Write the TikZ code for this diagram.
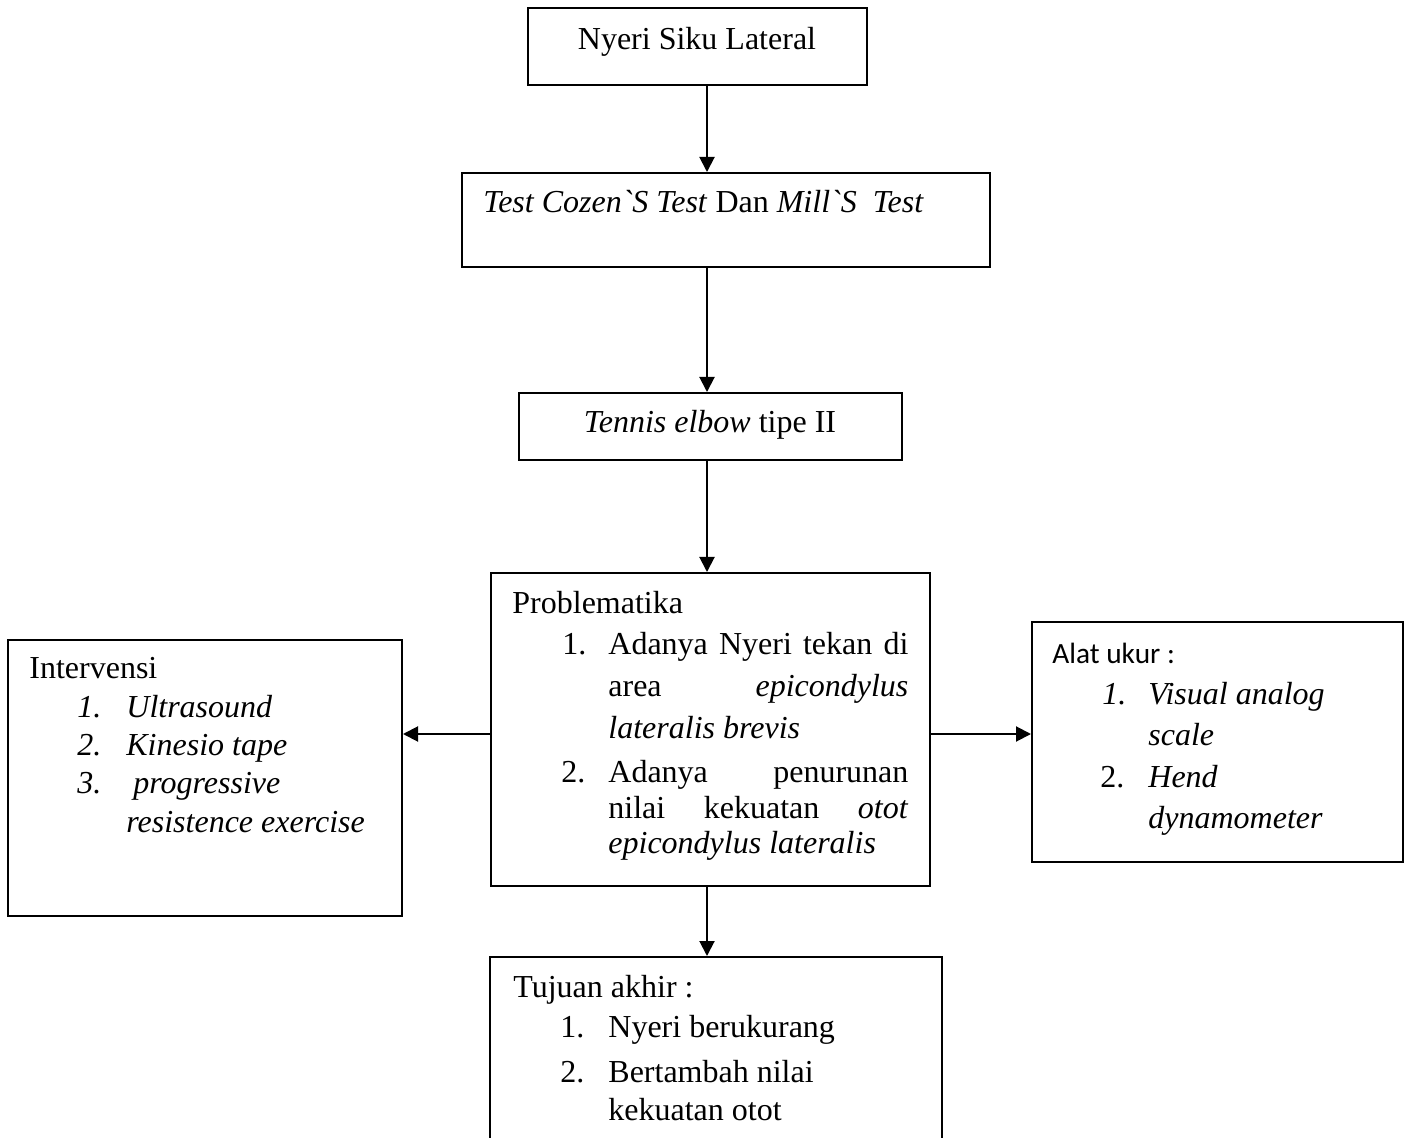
\documentclass[tikz,border=0pt]{standalone}
\usepackage{fontspec}
\setmainfont{Liberation Serif}[Ligatures=TeXOff]
\newfontfamily\carlitofont{Carlito}
\usetikzlibrary{arrows.meta,fit}
\begin{document}
\begin{tikzpicture}[x=0.5pt,y=-0.5pt,
  box/.style={draw,line width=1pt,inner sep=0pt,rectangle},
  txt/.style={anchor=base west,inner sep=0pt,font=\fontsize{16}{19}\selectfont},
  ctxt/.style={anchor=base,inner sep=0pt,font=\fontsize{16}{19}\selectfont},
  caltxt/.style={anchor=base west,inner sep=0pt,font=\carlitofont\fontsize{14.67}{17}\selectfont},
  arr/.style={line width=1pt,-{Triangle[length=7.5pt,width=7.5pt]}}]
\useasboundingbox (0,0) rectangle (1408,1138);
% boxes
\node[box,fit={(528,8) (867,85)}] (b1) {};
\node[box,fit={(462,173) (990,267)}] (b2) {};
\node[box,fit={(519,393) (902,460)}] (b3) {};
\node[box,fit={(491,573) (930,886)}] (b4) {};
\node[box,fit={(8,640) (402,916)}] (lb) {};
\node[box,fit={(1032,622) (1403,862)}] (rb) {};
\node[box,fit={(490,957) (942,1170)}] (b5) {};
% connector guides
\coordinate (ax) at (707,0);
\coordinate (hy) at (0,734);
\draw[arr] (b1.south -| ax) -- (b2.north -| ax);
\draw[arr] (b2.south -| ax) -- (b3.north -| ax);
\draw[arr] (b3.south -| ax) -- (b4.north -| ax);
\draw[arr] (b4.south -| ax) -- (b5.north -| ax);
\draw[arr] (b4.west |- hy) -- (lb.east |- hy);
\draw[arr] (b4.east |- hy) -- (rb.west |- hy);
% box 1
\node[ctxt] (t1) at (697,50) {Nyeri Siku Lateral};
% box 2
\node[txt] (t2) at (483,213) {\textit{Test Cozen`S Test} Dan \textit{Mill`S\ \ Test}};
% box 3
\node[ctxt] (t3) at (710,433) {\textit{Tennis elbow} tipe II};
% box 4
\node[txt] (p0) at (512,613) {Problematika};
\node[txt] (p1n) at (562,654) {1.};
\node[txt] (p1) at (608,654) {\makebox[150pt][l]{Adanya\hfill Nyeri\hfill tekan\hfill di}};
\node[txt] (p2) at (608,697) {\makebox[150pt][l]{area\hfill\textit{epicondylus}}};
\node[txt] (p3) at (608,738) {\textit{lateralis brevis}};
\node[txt] (p4n) at (561,782) {2.};
\node[txt] (p4) at (608,782) {\makebox[150pt][l]{Adanya\hfill penurunan}};
\node[txt] (p5) at (608,818) {\makebox[150pt][l]{nilai\hfill kekuatan\hfill\textit{otot}}};
\node[txt] (p6) at (608,853) {\textit{epicondylus lateralis}};
% left box
\node[txt] (l0) at (29,678) {Intervensi};
\node[txt] (l1n) at (77,717) {\textit{1.}};
\node[txt] (l1) at (126,717) {\textit{Ultrasound}};
\node[txt] (l2n) at (77,755) {\textit{2.}};
\node[txt] (l2) at (126,755) {\textit{Kinesio tape}};
\node[txt] (l3n) at (77,793) {\textit{3.}};
\node[txt] (l3) at (133,793) {\textit{progressive}};
\node[txt] (l4) at (126,832) {\textit{resistence exercise}};
% right box
\node[caltxt] (r0) at (1052,663) {Alat ukur :};
\node[txt] (r1n) at (1102,704) {\textit{1.}};
\node[txt] (r1) at (1148,704) {\textit{Visual analog}};
\node[txt] (r2) at (1148,745) {\textit{scale}};
\node[txt] (r3n) at (1100,787) {2.};
\node[txt] (r3) at (1148,787) {\textit{Hend}};
\node[txt] (r4) at (1148,828) {\textit{dynamometer}};
% bottom box
\node[txt] (u0) at (513,997) {Tujuan akhir :};
\node[txt] (u1n) at (560,1037) {1.};
\node[txt] (u1) at (608,1037) {Nyeri berukurang};
\node[txt] (u2n) at (560,1082) {2.};
\node[txt] (u2) at (608,1082) {Bertambah nilai};
\node[txt] (u3) at (608,1120) {kekuatan otot};
\end{tikzpicture}
\end{document}
